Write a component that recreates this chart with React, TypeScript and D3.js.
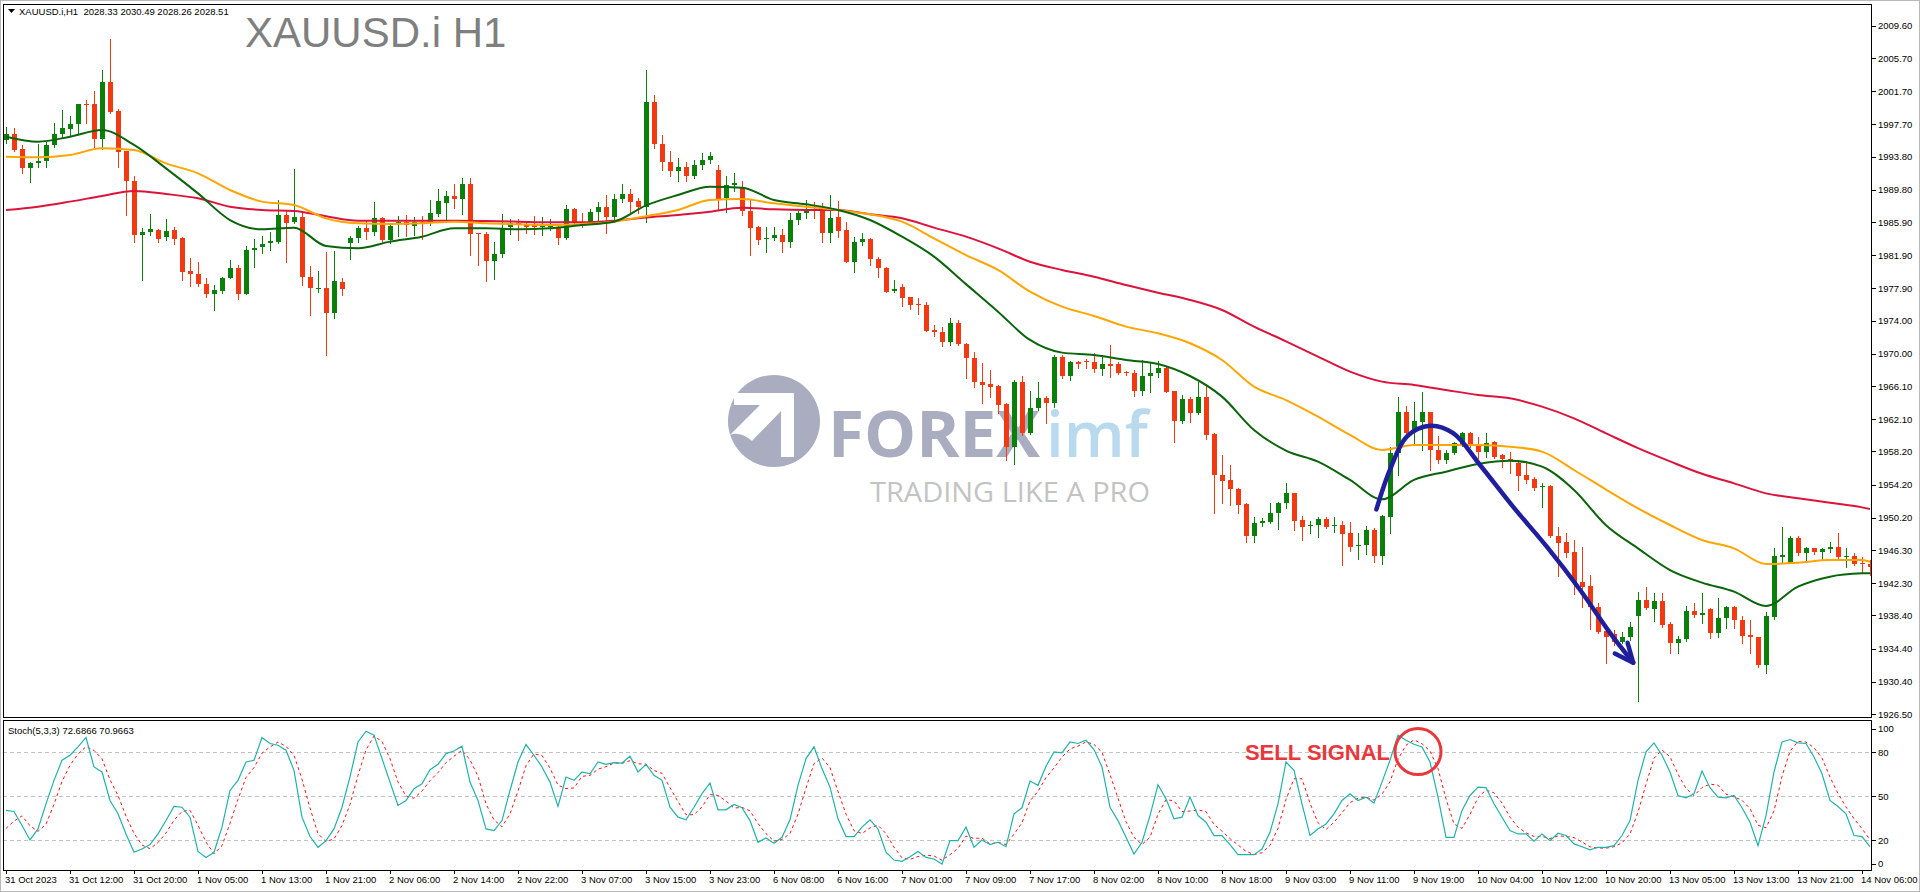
import React, { useEffect } from "react";
import * as d3 from "d3";

// ---------- Candles (H1, 31 Oct 04:00 .. 14 Nov 07:00) ----------
const openPrices = [
1995.80,1996.48,1994.71,1992.38,1992.98,1993.27,1995.20,1996.48,1997.17,1997.69,
2000.15,2000.15,1995.88,2002.76,1999.30,1994.47,1990.89,1984.33,1984.65,1984.94,
1984.13,1984.94,1983.93,1979.99,1979.62,1978.42,1977.17,1977.61,1979.10,1980.39,
1977.17,1982.52,1982.84,1983.33,1983.53,1986.75,1985.94,1986.54,1979.30,1977.89,
1977.97,1974.88,1978.70,1983.41,1983.93,1985.14,1984.74,1986.43,1983.73,1985.66,
1985.94,1985.46,1985.94,1985.74,1986.87,1988.24,1989.04,1988.64,1990.49,1984.53,
1984.45,1981.23,1982.00,1985.34,1985.82,1985.54,1985.54,1985.26,1985.34,1985.34,
1983.93,1987.47,1985.86,1985.86,1987.15,1987.75,1986.55,1988.64,1989.24,1988.44,
1987.67,2000.43,1995.30,1993.20,1992.10,1992.60,1991.50,1992.80,1993.40,1992.20,
1988.76,1990.40,1990.17,1987.23,1985.26,1983.85,1983.93,1984.33,1983.45,1986.14,
1986.95,1987.75,1987.63,1984.53,1986.47,1984.94,1981.11,1983.53,1983.85,1981.44,
1980.39,1977.57,1978.02,1976.81,1976.00,1975.88,1972.87,1972.66,1971.38,1973.75,
1971.13,1969.44,1966.63,1966.31,1966.14,1963.93,1958.70,1966.63,1960.39,1963.41,
1964.70,1964.01,1969.57,1967.31,1968.96,1969.12,1968.96,1968.12,1968.76,1968.76,
1967.83,1967.71,1965.54,1967.31,1967.63,1968.32,1965.50,1961.92,1964.49,1962.80,
1964.82,1960.27,1955.36,1954.76,1953.63,1951.86,1948.00,1949.52,1949.73,1950.73,
1952.02,1953.23,1949.93,1949.20,1949.32,1950.01,1949.20,1949.32,1948.32,1946.79,
1946.91,1948.72,1945.58,1950.33,1958.06,1963.01,1960.59,1961.80,1963.01,1958.38,
1957.17,1958.06,1959.10,1960.47,1959.06,1958.18,1959.30,1957.78,1957.25,1956.85,
1955.36,1954.84,1953.95,1954.03,1948.00,1947.27,1946.06,1942.44,1941.96,1939.38,
1936.53,1936.16,1935.15,1935.84,1938.37,1940.26,1939.14,1940.18,1937.33,1935.11,
1935.51,1938.94,1938.45,1939.14,1936.32,1938.05,1939.38,1937.85,1936.04,1935.76,
1932.42,1938.25,1945.49,1944.77,1947.71,1945.98,1946.50,1946.10,1946.38,1946.62,
1945.49,1945.57,1944.69,1944.61];

const highPrices = [
1997.41,1997.21,1995.20,1993.18,1995.28,1995.60,1997.89,1999.42,1998.70,2000.15,
2000.63,2001.72,2004.25,2007.99,1999.58,1994.51,1991.45,1985.14,1986.87,1985.02,
1986.22,1985.34,1984.13,1981.51,1981.03,1979.10,1978.30,1979.30,1981.31,1980.71,
1983.00,1983.81,1984.21,1984.73,1988.56,1987.35,1992.26,1987.15,1980.59,1980.03,
1982.32,1982.44,1979.10,1984.21,1985.42,1986.14,1988.36,1986.55,1985.54,1986.63,
1986.75,1986.47,1986.63,1988.56,1989.85,1989.69,1990.49,1991.17,1991.17,1984.53,
1984.74,1983.53,1986.87,1986.31,1986.22,1986.06,1986.63,1986.47,1986.31,1985.66,
1987.96,1987.55,1987.03,1987.43,1988.36,1989.16,1989.24,1990.49,1989.85,1988.84,
2004.25,2001.20,1996.40,1994.50,1993.60,1993.20,1993.40,1994.20,1994.40,1992.80,
1991.40,1991.80,1990.80,1988.56,1985.40,1985.34,1985.34,1985.06,1986.95,1987.23,
1988.56,1988.28,1988.16,1989.16,1988.44,1985.94,1984.13,1984.53,1983.93,1981.72,
1980.51,1978.90,1978.42,1976.89,1976.69,1976.29,1973.47,1973.27,1974.27,1974.07,
1971.26,1970.25,1968.84,1968.04,1966.23,1964.01,1966.83,1967.31,1965.50,1966.63,
1964.90,1969.85,1969.85,1969.16,1969.16,1969.32,1970.05,1969.85,1971.05,1969.04,
1967.96,1968.04,1969.24,1968.84,1969.16,1968.56,1965.54,1965.02,1964.74,1966.63,
1966.23,1960.47,1957.77,1956.57,1953.75,1951.94,1950.25,1950.13,1952.02,1952.10,
1954.43,1953.23,1950.41,1949.85,1950.33,1950.33,1950.25,1949.85,1949.73,1948.32,
1949.20,1948.92,1950.53,1958.78,1964.74,1963.69,1964.21,1965.42,1963.01,1960.07,
1958.38,1959.38,1960.59,1960.59,1959.99,1960.47,1959.47,1957.90,1958.18,1956.97,
1957.09,1955.16,1954.35,1954.15,1949.12,1948.40,1947.51,1946.63,1943.29,1939.87,
1937.05,1936.64,1936.44,1937.65,1941.27,1941.87,1941.15,1941.07,1937.65,1935.92,
1939.54,1939.86,1941.07,1939.26,1940.46,1939.54,1939.54,1938.33,1937.85,1935.84,
1938.85,1946.50,1949.12,1947.99,1947.99,1946.70,1946.50,1946.50,1947.31,1948.39,
1946.50,1945.98,1945.41,1945.09];

const lowPrices = [
1995.40,1994.51,1991.78,1990.77,1992.58,1992.58,1995.00,1996.20,1996.28,1996.61,
1997.81,1995.00,1994.67,1999.02,1992.58,1986.75,1983.53,1978.90,1984.33,1983.53,
1983.73,1983.20,1978.90,1978.17,1978.17,1976.89,1975.28,1977.29,1979.10,1976.56,
1977.17,1980.51,1982.12,1982.52,1983.33,1981.11,1985.82,1978.30,1974.67,1977.49,
1969.84,1974.30,1977.09,1981.40,1983.53,1983.81,1984.33,1983.53,1983.41,1984.21,
1984.21,1984.33,1983.81,1985.54,1986.63,1986.22,1987.55,1986.87,1981.92,1980.71,
1978.82,1978.98,1981.64,1984.45,1983.73,1984.53,1984.45,1984.33,1984.94,1983.25,
1983.81,1985.74,1985.34,1985.74,1985.94,1984.53,1986.22,1988.36,1987.15,1987.03,
1985.94,1994.80,1992.20,1991.40,1990.90,1990.80,1991.20,1992.30,1993.00,1987.35,
1987.15,1989.60,1986.75,1981.92,1983.21,1982.32,1983.73,1982.32,1982.93,1985.62,
1986.35,1986.35,1983.53,1983.53,1984.13,1981.11,1979.91,1983.13,1980.71,1979.30,
1977.41,1977.49,1975.80,1975.40,1974.76,1972.74,1972.18,1970.97,1971.05,1971.05,
1967.11,1966.02,1964.09,1964.82,1962.80,1957.17,1956.69,1960.19,1960.31,1963.21,
1961.68,1963.61,1967.03,1966.83,1968.24,1968.24,1967.83,1967.43,1967.23,1967.55,
1967.43,1964.94,1965.02,1965.42,1967.15,1965.34,1959.38,1961.68,1961.80,1962.72,
1959.71,1950.81,1951.94,1951.74,1950.81,1947.31,1947.31,1949.20,1949.61,1948.80,
1951.34,1948.72,1947.51,1948.32,1947.92,1948.92,1948.52,1944.50,1946.23,1945.18,
1945.78,1944.90,1944.62,1948.40,1955.36,1959.67,1959.10,1958.38,1955.96,1956.85,
1956.77,1957.90,1958.86,1958.78,1957.37,1957.57,1957.45,1956.37,1955.56,1953.55,
1954.43,1953.55,1951.46,1947.92,1943.17,1945.50,1940.99,1939.47,1936.73,1936.33,
1932.70,1934.83,1935.03,1935.43,1928.11,1939.14,1937.77,1937.04,1933.82,1933.90,
1935.35,1938.25,1937.45,1935.64,1935.76,1936.84,1936.84,1935.03,1933.90,1932.21,
1931.49,1937.93,1944.77,1944.69,1945.70,1945.01,1945.82,1945.17,1946.10,1945.09,
1944.21,1944.49,1943.56,1943.28];

const closePrices = [
1996.48,1994.59,1992.38,1993.06,1993.27,1995.20,1996.48,1997.25,1997.73,2000.15,
2000.03,1995.88,2002.76,1999.22,1994.39,1990.89,1984.33,1984.73,1985.02,1983.81,
1984.85,1983.81,1979.90,1979.58,1978.38,1977.17,1977.69,1979.10,1980.31,1977.17,
1982.52,1982.80,1983.20,1983.65,1986.75,1985.82,1986.54,1979.30,1977.89,1977.97,
1974.96,1978.82,1977.77,1983.93,1985.14,1984.74,1986.35,1983.73,1985.46,1985.94,
1985.54,1985.94,1985.66,1986.95,1988.44,1989.04,1988.64,1990.49,1984.45,1984.45,
1981.23,1982.04,1985.14,1985.74,1985.54,1985.26,1985.26,1985.54,1985.62,1983.93,
1987.47,1985.86,1985.74,1987.15,1987.75,1986.55,1988.68,1989.24,1988.36,1987.67,
2000.43,1995.30,1993.20,1992.10,1992.60,1991.50,1992.80,1993.40,1993.90,1988.56,
1990.40,1990.60,1987.23,1985.22,1983.73,1984.01,1984.33,1983.53,1986.14,1986.95,
1987.23,1987.55,1984.53,1986.35,1984.86,1981.11,1983.53,1983.85,1981.44,1980.39,
1977.49,1977.77,1976.77,1975.88,1975.88,1972.78,1972.58,1971.38,1973.67,1971.13,
1969.44,1966.63,1966.23,1966.02,1963.81,1958.70,1966.63,1960.39,1963.41,1964.62,
1964.01,1969.57,1967.31,1968.96,1968.76,1968.96,1968.12,1968.76,1968.56,1967.71,
1967.63,1965.54,1967.31,1967.71,1968.24,1965.42,1961.92,1964.49,1962.80,1964.82,
1960.19,1955.36,1954.68,1953.63,1951.74,1948.00,1949.52,1949.81,1950.73,1952.02,
1953.15,1949.85,1949.12,1949.32,1950.01,1949.12,1949.32,1948.24,1946.71,1946.91,
1948.72,1945.58,1950.41,1958.06,1963.01,1960.47,1961.92,1963.01,1958.38,1957.17,
1958.06,1959.18,1960.47,1958.98,1958.18,1959.26,1957.57,1957.25,1957.17,1955.28,
1954.76,1953.75,1954.03,1948.00,1947.19,1945.98,1942.36,1941.88,1939.38,1936.45,
1935.76,1935.15,1935.84,1936.96,1940.26,1939.26,1940.18,1937.25,1935.11,1935.51,
1938.94,1938.45,1938.65,1936.32,1938.05,1939.38,1937.85,1935.92,1935.76,1932.42,
1938.33,1945.57,1945.66,1947.71,1945.98,1946.50,1946.10,1946.38,1946.62,1945.41,
1945.57,1944.61,1944.61,1944.29];

// ---------- Moving averages (read at every 4th bar) ----------
const maSampleBars = [0,4,8,12,16,20,24,28,32,36,40,44,48,52,56,60,64,68,72,76,80,84,88,92,96,100,
104,108,112,116,120,124,128,132,136,140,144,148,152,156,160,164,168,172,176,180,184,188,192,196,200,
204,208,212,216,220,224,228,232,233];
const maFast = [1996.20,1995.60,1996.20,1997.01,1995.20,1992.38,1989.36,1986.14,1985.02,1985.22,1983.00,
1982.72,1983.53,1984.13,1985.14,1985.14,1985.02,1985.14,1985.54,1985.94,1987.90,1989.16,1990.17,1990.05,
1988.56,1988.04,1987.35,1986.14,1984.13,1981.72,1978.40,1975.08,1971.66,1970.13,1969.85,1969.24,1968.76,
1967.31,1964.82,1960.79,1958.30,1956.97,1954.76,1952.42,1954.76,1955.76,1956.69,1957.09,1956.37,1953.55,
1949.30,1946.50,1943.88,1942.36,1941.27,1939.54,1941.87,1943.08,1943.48,1943.50];
const maMid = [1993.79,1993.71,1993.99,1994.79,1994.59,1992.98,1991.78,1989.76,1988.36,1987.95,1986.34,
1985.74,1985.66,1985.74,1985.94,1985.74,1985.62,1985.54,1985.66,1985.94,1986.60,1987.35,1988.56,1988.68,
1988.16,1987.75,1987.35,1986.83,1985.94,1983.93,1981.90,1980.11,1977.49,1975.68,1974.56,1973.27,1972.46,
1971.26,1969.24,1966.02,1964.40,1962.40,1960.19,1958.38,1958.98,1958.98,1958.98,1958.78,1958.18,1955.96,
1953.60,1951.33,1949.32,1947.51,1946.50,1944.61,1944.77,1945.09,1945.09,1944.89];
const maSlow = [1987.35,1987.75,1988.36,1989.04,1989.64,1989.28,1988.76,1987.75,1987.35,1987.23,1986.60,
1986.06,1986.06,1986.06,1986.06,1986.02,1985.94,1985.86,1985.86,1986.06,1986.45,1986.75,1987.15,1987.63,
1987.43,1987.35,1987.35,1986.83,1986.35,1985.22,1984.13,1982.72,1981.11,1980.11,1979.30,1978.30,1977.37,
1976.49,1975.28,1973.27,1971.50,1969.65,1967.84,1966.63,1966.23,1965.62,1965.02,1964.62,1963.61,1962.20,
1960.39,1958.60,1957.00,1955.50,1954.35,1953.14,1952.54,1952.01,1951.45,1951.25];

// ---------- Stochastic (5,3,3) ----------
const stochMain = [
40.3,39.6,30,20.2,27.7,44.8,60.8,74.5,77.9,83.6,90,69.9,66.5,47.1,38,24.3,11.8,14,17,24.3,
33.4,43,42.5,35.7,12.4,8.3,11.8,28.9,53.9,60.8,73.3,74.5,90,85.9,84.7,81.3,67.6,35.7,22.5,15.2,
19.7,27.7,42.5,63.1,87,94.3,91.6,75.6,59.6,43.7,47.1,55.1,58.5,68.1,71.7,79,80.8,84,59.6,47.1,
27.7,26.6,33.4,53.9,73.3,85.2,77.9,69.9,59.6,43,63.1,60.8,66.5,65.3,73.3,71.7,72.9,72.6,77.2,66.5,
71.7,64.2,60.8,42.5,35.7,33.9,42.5,51.7,59,40.7,40.7,44.4,42.1,33.4,18.6,21.6,17.9,22,33.9,57.4,
75.6,83.6,68.8,56.2,34.6,22.5,22.5,28.9,33.9,27.7,11.8,6.5,5.6,8.8,12.4,8.3,7.2,3.8,19.7,19.7,
28.9,15.2,20.2,17,18.6,15.6,38,42.1,60.3,57.4,70.4,80.2,79.5,87,85.9,88.1,81.8,69.9,42.5,33.4,
22,10.6,18.6,36.8,57.8,48.2,34.6,35.7,49.4,36.8,32.3,23.2,23.2,17,10.2,10.2,10.2,14,25.4,44.8,
73.3,67.6,44.8,23.2,27.7,31.1,38,47.1,51.7,47.1,49.4,45.3,59.6,74.5,91.6,88.1,85.4,83.6,73.3,49.4,
22,22,40.3,50.5,56.2,55.8,44.8,35.7,26.6,24.3,24.3,19.3,24.3,19.7,24.8,23.2,17.5,15.6,13.4,15.2,
15.2,16.3,23.2,33.4,60.8,80.2,86.3,77.9,66.5,50.5,48.9,51.7,67.2,55.8,49.4,48.9,50.5,42.1,32.3,16.3,
36.8,66.5,87,88.6,86.3,85.9,76.7,65.3,47.1,43,38,23.2,22.5,15.6];
const stochSignal = [
28,33,36.6,29.9,26,30.9,44.4,60,71.1,78.7,83.8,81.2,75.5,61.2,50.5,36.5,24.7,16.7,14.3,18.4,
24.9,33.6,39.6,40.4,30.2,18.8,10.8,16.3,31.5,47.9,62.7,69.5,79.3,83.5,86.9,84,77.9,61.5,41.9,24.5,
19.1,20.9,30,44.4,64.2,81.5,91,87.2,75.6,59.6,50.1,48.6,53.6,60.6,66.1,72.9,77.2,81.3,74.8,63.6,
44.8,33.8,29.2,38,53.5,70.8,78.8,77.7,69.1,57.5,55.2,55.6,63.5,64.2,68.4,70.1,72.6,72.4,74.2,72.1,
71.8,67.5,65.6,55.8,46.3,37.4,37.4,42.7,51.1,50.5,46.8,41.9,42.4,40,31.4,24.5,19.4,20.5,24.6,37.8,
55.6,72.2,76,69.5,53.2,37.8,26.5,24.6,28.4,30.2,24.5,15.3,8,7,8.9,9.8,9.3,6.4,10.2,14.4,
22.8,21.3,21.4,17.5,18.6,17.1,24.1,31.9,46.8,53.3,62.7,69.3,76.7,82.2,84.1,87,85.3,79.9,64.7,48.6,
32.6,22,17.1,22,37.7,47.6,46.9,39.5,39.9,40.6,39.5,30.8,26.2,21.1,16.8,12.5,10.2,11.5,16.5,28.1,
47.8,61.9,61.9,45.2,31.9,27.3,32.3,38.7,45.6,48.6,49.4,47.3,51.4,59.8,75.2,84.7,88.4,85.7,80.8,68.8,
48.2,31.1,28.1,37.6,49,54.2,52.3,45.4,35.7,28.9,25.1,22.6,22.6,21.1,22.9,22.6,21.8,18.8,15.5,14.7,
14.6,15.6,18.2,24.3,39.1,58.1,75.8,81.5,76.9,65,55.3,50.4,55.9,58.2,57.5,51.4,49.6,47.2,41.6,30.2,
28.5,39.9,63.4,80.7,87.3,86.9,83,76,63,51.8,42.7,34.7,27.9,20.4];

// ---------- Axes ----------
const timeLabels = ["31 Oct 2023","31 Oct 12:00","31 Oct 20:00","1 Nov 05:00","1 Nov 13:00","1 Nov 21:00",
"2 Nov 06:00","2 Nov 14:00","2 Nov 22:00","3 Nov 07:00","3 Nov 15:00","3 Nov 23:00","6 Nov 08:00",
"6 Nov 16:00","7 Nov 01:00","7 Nov 09:00","7 Nov 17:00","8 Nov 02:00","8 Nov 10:00","8 Nov 18:00",
"9 Nov 03:00","9 Nov 11:00","9 Nov 19:00","10 Nov 04:00","10 Nov 12:00","10 Nov 20:00","13 Nov 05:00",
"13 Nov 13:00","13 Nov 21:00","14 Nov 06:00"];
const timeLabelBars = [0,8,16,24,32,40,48,56,64,72,80,88,96,104,112,120,128,136,144,152,160,168,176,
184,192,200,208,216,224,232];
const priceTicks = [2009.6,2005.7,2001.7,1997.7,1993.8,1989.8,1985.9,1981.9,1977.9,1974.0,1970.0,1966.1,
1962.1,1958.2,1954.2,1950.2,1946.3,1942.3,1938.4,1934.4,1930.4,1926.5];
const stochTicks = [100,80,50,20,0];
const stochLevels = [80,50,20];

// ---------- Annotations (data space) ----------
const arrowPath = [[171.3,1951.2],[173,1956.0],[175.1,1960.0],[178,1961.3],[180.9,1960.4],[184.3,1956.5],
[188.4,1951.5],[192.6,1946.7],[196.75,1941.5],[200.5,1936.3],[203.4,1932.7]];
const arrowHead = [[201.1,1933.8],[203.4,1932.7],[202.7,1935.1]];
const sellSignal = { bar: 176.5, value: 80.4, label: "SELL SIGNAL" };

const FONT = "'Liberation Sans', Arial, sans-serif";
const WM_FONT = "'Open Sans', 'Noto Sans', sans-serif";
const BULL = "#0a800a";
const BEAR = "#f23a12";

export default function App() {
  useEffect(() => {
    document.body.style.margin = "0";
  }, []);

  const left = 3, right = 1872;
  const mainTop = 4, mainBottom = 717, stTop = 720, stBottom = 870;

  const x = d3.scaleLinear().domain([0, 233]).range([6, 1870]);
  const y = d3.scaleLinear().domain([1926.14, 2012.22]).range([mainBottom, mainTop]);
  const ys = d3.scaleLinear().domain([0, 100]).range([869.6, 722.8]);

  const maLine = d3.line<number>()
    .x((_, j) => x(maSampleBars[j]))
    .y((v) => y(v))
    .curve(d3.curveMonotoneX);
  const stLine = d3.line<number>().x((_, i) => x(i)).y((v) => ys(v));
  const annLine = d3.line<number[]>().x((d) => x(d[0])).y((d) => y(d[1])).curve(d3.curveCatmullRom);
  const headLine = d3.line<number[]>().x((d) => x(d[0])).y((d) => y(d[1]));

  const cxW = 774, cyW = 421;

  return (
    <svg width={1920} height={892} style={{ position: "absolute", left: 0, top: 0, display: "block", background: "#fff" }}>
      <defs>
        <clipPath id="mainClip"><rect x={left} y={mainTop} width={right - left} height={mainBottom - mainTop} /></clipPath>
        <clipPath id="stClip"><rect x={left} y={stTop} width={right - left} height={stBottom - stTop} /></clipPath>
      </defs>
      <rect x={0} y={0} width={1920} height={892} fill="#fff" />
      <rect x={0.5} y={0.5} width={1919} height={891} fill="none" stroke="#b8b8b8" />

      {/* watermark */}
      <g opacity={0.85}>
        <circle cx={cxW} cy={cyW} r={46} fill="#9c9eb6" />
        <path d={`M${cxW - 40},${cyW - 28} L${cxW + 20},${cyW - 28} L${cxW + 20},${cyW + 36} L${cxW + 7},${cyW + 36} L${cxW + 7},${cyW - 10} L${cxW - 22},${cyW + 20} Q${cxW - 34},${cyW + 10} ${cxW - 44},${cyW + 14} L${cxW - 14},${cyW - 16} L${cxW - 40},${cyW - 16} Z`} fill="#fff" />
        <text x={828} y={457} fontFamily={WM_FONT} fontWeight={700} fontSize={64} fill="#9c9eb6" textLength={212} lengthAdjust="spacingAndGlyphs">FOREX</text>
        <text x={1046} y={457} fontFamily={WM_FONT} fontWeight={600} fontSize={64} fill="#acd3ec" textLength={102} lengthAdjust="spacingAndGlyphs">imf</text>
        <text x={870} y={502} fontFamily={WM_FONT} fontWeight={400} fontSize={28} fill="#b9b9b9" textLength={280} lengthAdjust="spacingAndGlyphs">TRADING LIKE A PRO</text>
      </g>

      {/* main panel */}
      <g clipPath="url(#mainClip)">
        {closePrices.map((c, i) => {
          const o = openPrices[i];
          const col = c >= o ? BULL : BEAR;
          const cx = Math.round(x(i));
          const top = Math.round(y(Math.max(o, c)));
          const bot = Math.round(y(Math.min(o, c)));
          return (
            <g key={i}>
              <line x1={cx + 0.5} x2={cx + 0.5} y1={Math.round(y(highPrices[i]))} y2={Math.round(y(lowPrices[i])) + 1} stroke={col} strokeWidth={1} />
              <rect x={cx - 2} y={top} width={5} height={Math.max(1, bot - top)} fill={col} />
            </g>
          );
        })}
        <path d={maLine(maSlow) || ""} fill="none" stroke="#dc143c" strokeWidth={2} />
        <path d={maLine(maMid) || ""} fill="none" stroke="#ffa500" strokeWidth={2} />
        <path d={maLine(maFast) || ""} fill="none" stroke="#0a640a" strokeWidth={2} />
        <path d={annLine(arrowPath) || ""} fill="none" stroke="#1f1f9e" strokeWidth={4.5} strokeLinecap="round" strokeLinejoin="round" />
        <path d={headLine(arrowHead) || ""} fill="none" stroke="#1f1f9e" strokeWidth={4.5} strokeLinecap="round" strokeLinejoin="round" />
      </g>

      {/* header & title */}
      <path d="M8,9 L15,9 L11.5,13 Z" fill="#000" />
      <text x={19} y={15} fontFamily={FONT} fontSize={9.5} fill="#000" style={{ whiteSpace: "pre" }}>{"XAUUSD.i,H1  2028.33 2030.49 2028.26 2028.51"}</text>
      <text x={245} y={47} fontFamily={FONT} fontSize={42} fill="#7f7f7f">XAUUSD.i H1</text>

      {/* stochastic panel */}
      {stochLevels.map((lv) => (
        <line key={lv} x1={left} x2={right} y1={Math.round(ys(lv)) + 0.5} y2={Math.round(ys(lv)) + 0.5} stroke="#c4c4c4" strokeDasharray="4,3" />
      ))}
      <g clipPath="url(#stClip)">
        <path d={stLine(stochSignal) || ""} fill="none" stroke="#ff1010" strokeWidth={1} strokeDasharray="3,3" />
        <path d={stLine(stochMain) || ""} fill="none" stroke="#20b2aa" strokeWidth={1.2} />
      </g>
      <text x={8} y={734} fontFamily={FONT} fontSize={9.5} fill="#000">Stoch(5,3,3) 72.6866 70.9663</text>
      <circle cx={x(sellSignal.bar)} cy={ys(sellSignal.value)} r={23} fill="none" stroke="#e8383b" strokeWidth={3} />
      <text x={x(sellSignal.bar) - 28} y={ys(sellSignal.value) + 8} textAnchor="end" fontFamily={FONT} fontWeight={700} fontSize={22} fill="#e8383b">{sellSignal.label}</text>

      {/* frames */}
      <rect x={left + 0.5} y={mainTop + 0.5} width={right - left - 1} height={mainBottom - mainTop} fill="none" stroke="#000" />
      <rect x={left + 0.5} y={stTop + 0.5} width={right - left - 1} height={stBottom - stTop} fill="none" stroke="#000" />

      {/* price axis */}
      {priceTicks.map((p) => (
        <g key={p}>
          <line x1={right} x2={right + 4} y1={Math.round(y(p)) + 0.5} y2={Math.round(y(p)) + 0.5} stroke="#000" />
          <text x={right + 6} y={y(p) + 3.5} fontFamily={FONT} fontSize={9.5} fill="#000">{p.toFixed(2)}</text>
        </g>
      ))}
      {stochTicks.map((v) => {
        const yy = v === 100 ? ys(v) + 6 : v === 0 ? ys(v) - 6 : ys(v);
        return (
          <g key={v}>
            <line x1={right} x2={right + 4} y1={Math.round(yy) + 0.5} y2={Math.round(yy) + 0.5} stroke="#000" />
            <text x={right + 6} y={yy + 3.5} fontFamily={FONT} fontSize={9.5} fill="#000">{v}</text>
          </g>
        );
      })}

      {/* time axis */}
      {timeLabelBars.map((b, k) => (
        <g key={b}>
          <line x1={Math.round(x(b)) + 0.5} x2={Math.round(x(b)) + 0.5} y1={stBottom} y2={stBottom + 4} stroke="#000" />
          <text x={x(b) - 1} y={883} fontFamily={FONT} fontSize={9.5} fill="#000">{timeLabels[k]}</text>
        </g>
      ))}
    </svg>
  );
}
